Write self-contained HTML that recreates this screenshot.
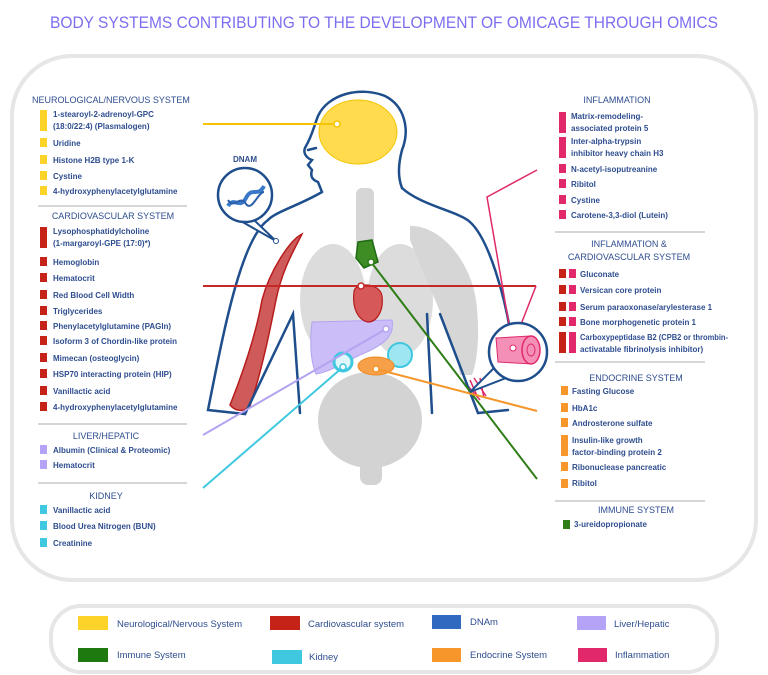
<!DOCTYPE html>
<html><head><meta charset="utf-8"><style>
html,body{margin:0;padding:0;background:#fff;}
svg{display:block;}
.t{font-family:"Liberation Sans",sans-serif;font-size:8px;fill:#2e4d8f;font-weight:bold;}
.h{font-family:"Liberation Sans",sans-serif;font-size:9px;fill:#2e4d8f;}
.lg{font-family:"Liberation Sans",sans-serif;font-size:9.5px;fill:#2e4d8f;}
</style></head><body>
<svg width="768" height="675" viewBox="0 0 768 675" xmlns="http://www.w3.org/2000/svg">
<text x="384" y="28" text-anchor="middle" font-family="Liberation Sans, sans-serif" font-size="17" fill="#7b6ef0" textLength="668" lengthAdjust="spacingAndGlyphs">BODY SYSTEMS CONTRIBUTING TO THE DEVELOPMENT OF OMICAGE THROUGH OMICS</text>
<rect x="12" y="56" width="744" height="524" rx="60" fill="#fff" stroke="#e6e6e6" stroke-width="4"/>

<!-- body organs -->
<g>
<rect x="356" y="188" width="18" height="75" rx="6" fill="#d6d6d6"/>
<ellipse cx="333" cy="300" rx="33" ry="56" fill="#dcdcdc"/>
<ellipse cx="400" cy="300" rx="33" ry="56" fill="#dcdcdc"/>
<ellipse cx="370" cy="420" rx="52" ry="48" fill="#d3d3d3"/>
<rect x="360" y="440" width="22" height="45" rx="8" fill="#d3d3d3"/>
<path d="M410 226 C440 225 470 260 476 300 C480 330 478 360 472 375 L460 375 C455 340 430 290 410 240 Z" fill="#d6d6d6"/>
<path d="M302 234 C290 240 270 270 262 300 C255 340 240 380 230 405 C236 412 244 412 250 406 C262 370 270 330 276 300 C282 270 294 250 302 234 Z" fill="#cf5a5a" stroke="#b71c1c" stroke-width="1.5"/>
<path d="M312 322 L392 320 C395 335 385 345 360 355 C345 362 330 372 316 374 C310 360 310 340 312 322 Z" fill="#cbbdf8" stroke="#b4a3f0"/>
<path d="M358 242 L372 240 L378 262 L364 268 L356 258 Z" fill="#3d8c24" stroke="#1e6b12" stroke-width="1.5"/>
<path d="M354 292 C354 282 380 282 382 296 C384 312 376 322 368 322 C358 320 352 308 354 292 Z" fill="#d65858" stroke="#b71c1c" stroke-width="1.2"/>
<circle cx="343" cy="362" r="9" fill="#dff7fb" stroke="#3fc8e0" stroke-width="3"/>
<circle cx="400" cy="355" r="12" fill="#9ee6f2" stroke="#3fc8e0" stroke-width="2"/>
<ellipse cx="376" cy="366" rx="18" ry="9" fill="#f6a04a" stroke="#f08a20"/>
<ellipse cx="358" cy="132" rx="39" ry="32" fill="#ffdb4d" stroke="#f5c400"/>
<path d="M470 380 L478 398 M474 378 L486 396 M480 378 L484 398 M468 386 L480 400" stroke="#e0286a" stroke-width="1.5" fill="none"/>
</g>
<!-- outline -->
<g fill="none" stroke="#1f4e8c" stroke-width="2.5" stroke-linecap="round">
<path d="M322 192 L318 182 C312 180 310 176 312 170 L308 165 L312 160 C306 158 302 152 306 146 C312 136 314 126 318 116 C328 94 360 86 385 96 C405 106 410 130 402 150 C398 165 398 178 402 188"/>
<path d="M322 192 C300 205 275 212 268 220 C240 240 222 340 208 410 L245 414 L293 314 L300 413"/>
<path d="M402 188 C420 205 460 212 470 222 C490 240 505 300 510 330"/>
<path d="M427 314 L432 413 M440 314 L478 413 L508 410"/>
<path d="M308 150 L316 148"/>
</g>

<!-- connectors -->
<g fill="none" stroke-width="2">
<line x1="203" y1="124" x2="337" y2="124" stroke="#f5c400"/>
<line x1="203" y1="286" x2="536" y2="286" stroke="#c62828"/>
<line x1="371" y1="262" x2="537" y2="479" stroke="#2e7d17"/>
<line x1="386" y1="329" x2="203" y2="435" stroke="#b4a3f0"/>
<line x1="343" y1="367" x2="203" y2="488" stroke="#3fc8e0"/>
<line x1="376" y1="369" x2="537" y2="411" stroke="#f5962a"/>
<polyline points="537,170 487,197 512,342" stroke="#e0286a" stroke-width="1.5"/>
<line x1="536" y1="286" x2="518" y2="332" stroke="#e0286a" stroke-width="1.5"/>
</g>
<g fill="#fff" stroke-width="1.5">
<circle cx="337" cy="124" r="3" stroke="#f5c400"/>
<circle cx="361" cy="286" r="3" stroke="#c62828"/>
<circle cx="371" cy="262" r="3" stroke="#2e7d17"/>
<circle cx="386" cy="329" r="3" stroke="#b4a3f0"/>
<circle cx="343" cy="367" r="3" stroke="#3fc8e0"/>
<circle cx="376" cy="369" r="3" stroke="#f5962a"/>
</g>

<!-- DNAm -->
<text x="245" y="162" text-anchor="middle" class="t" style="font-size:8px">DNAM</text>
<path d="M232 216 L276 241 L253 219" fill="#fff" stroke="#1f4e8c" stroke-width="2"/>
<circle cx="245" cy="195" r="27" fill="#fff" stroke="#1f4e8c" stroke-width="2.5"/>
<path d="M228 206 C234 196 240 210 246 198 C252 186 258 198 264 186" stroke="#3a79c9" stroke-width="4" fill="none"/>
<path d="M228 200 C234 210 240 194 246 204 C252 212 258 192 264 192" stroke="#2a5fa8" stroke-width="2" fill="none"/>
<circle cx="276" cy="241" r="2.5" fill="#fff" stroke="#1f4e8c"/>

<!-- muscle circle -->
<path d="M494 368 L470 392 L506 378" fill="#fff" stroke="#1f4e8c" stroke-width="2"/>
<circle cx="518" cy="352" r="29" fill="#fff" stroke="#1f4e8c" stroke-width="2.5"/>
<path d="M496 338 L530 336 L532 364 L498 362 Z" fill="#f48fb8" stroke="#e0286a"/>
<ellipse cx="531" cy="350" rx="9" ry="14" fill="#f48fb8" stroke="#e0286a" stroke-width="1.5"/>
<ellipse cx="531" cy="350" rx="4" ry="6" fill="none" stroke="#e0286a"/>
<circle cx="513" cy="348" r="3" fill="#fff" stroke="#e0286a"/>

<!-- headers -->
<g class="h">
<text x="32" y="103">NEUROLOGICAL/NERVOUS SYSTEM</text>
<text x="113" y="219" text-anchor="middle">CARDIOVASCULAR SYSTEM</text>
<text x="106" y="439" text-anchor="middle">LIVER/HEPATIC</text>
<text x="106" y="499" text-anchor="middle">KIDNEY</text>
<text x="617" y="103" text-anchor="middle">INFLAMMATION</text>
<text x="629" y="247" text-anchor="middle">INFLAMMATION &amp;</text>
<text x="629" y="260" text-anchor="middle">CARDIOVASCULAR SYSTEM</text>
<text x="636" y="381" text-anchor="middle">ENDOCRINE SYSTEM</text>
<text x="636" y="513" text-anchor="middle">IMMUNE SYSTEM</text>
</g>
<g stroke="#c8c8c8" stroke-width="1.5">
<line x1="38" y1="206" x2="187" y2="206"/><line x1="38" y1="424" x2="187" y2="424"/><line x1="38" y1="483" x2="187" y2="483"/>
<line x1="555" y1="232" x2="705" y2="232"/><line x1="555" y1="362" x2="705" y2="362"/><line x1="555" y1="501" x2="705" y2="501"/>
</g>
<g fill="#fdd32a">
<rect x="40" y="110" width="7" height="21"/><rect x="40" y="138" width="7" height="9"/><rect x="40" y="155" width="7" height="9"/><rect x="40" y="171" width="7" height="9"/><rect x="40" y="186" width="7" height="9"/>
</g>
<g fill="#c62318">
<rect x="40" y="227" width="7" height="21"/><rect x="40" y="257" width="7" height="9"/><rect x="40" y="273" width="7" height="9"/><rect x="40" y="290" width="7" height="9"/><rect x="40" y="306" width="7" height="9"/><rect x="40" y="321" width="7" height="9"/><rect x="40" y="336" width="7" height="9"/><rect x="40" y="353" width="7" height="9"/><rect x="40" y="369" width="7" height="9"/><rect x="40" y="386" width="7" height="9"/><rect x="40" y="402" width="7" height="9"/>
</g>
<g fill="#b4a3f7"><rect x="40" y="445" width="7" height="9"/><rect x="40" y="460" width="7" height="9"/></g>
<g fill="#40c8e0"><rect x="40" y="505" width="7" height="9"/><rect x="40" y="521" width="7" height="9"/><rect x="40" y="538" width="7" height="9"/></g>
<g class="t">
<text x="53" y="117">1-stearoyl-2-adrenoyl-GPC</text><text x="53" y="129">(18:0/22:4) (Plasmalogen)</text>
<text x="53" y="146">Uridine</text><text x="53" y="163">Histone H2B type 1-K</text><text x="53" y="179">Cystine</text><text x="53" y="194">4-hydroxyphenylacetylglutamine</text>
<text x="53" y="234">Lysophosphatidylcholine</text><text x="53" y="246">(1-margaroyl-GPE (17:0)*)</text>
<text x="53" y="265">Hemoglobin</text><text x="53" y="281">Hematocrit</text><text x="53" y="298">Red Blood Cell Width</text><text x="53" y="314">Triglycerides</text><text x="53" y="329">Phenylacetylglutamine (PAGln)</text><text x="53" y="344">Isoform 3 of Chordin-like protein</text><text x="53" y="361">Mimecan (osteoglycin)</text><text x="53" y="377">HSP70 interacting protein (HIP)</text><text x="53" y="394">Vanillactic acid</text><text x="53" y="410">4-hydroxyphenylacetylglutamine</text>
<text x="53" y="453">Albumin (Clinical &amp; Proteomic)</text><text x="53" y="468">Hematocrit</text>
<text x="53" y="513">Vanillactic acid</text><text x="53" y="529">Blood Urea Nitrogen (BUN)</text><text x="53" y="546">Creatinine</text>
</g>

<!-- right lists -->
<g fill="#e0286a">
<rect x="559" y="112" width="7" height="21"/><rect x="559" y="137" width="7" height="21"/><rect x="559" y="164" width="7" height="9"/><rect x="559" y="179" width="7" height="9"/><rect x="559" y="195" width="7" height="9"/><rect x="559" y="210" width="7" height="9"/>
<rect x="569" y="269" width="7" height="9"/><rect x="569" y="285" width="7" height="9"/><rect x="569" y="302" width="7" height="9"/><rect x="569" y="317" width="7" height="9"/><rect x="569" y="332" width="7" height="21"/>
</g>
<g fill="#c62318">
<rect x="559" y="269" width="7" height="9"/><rect x="559" y="285" width="7" height="9"/><rect x="559" y="302" width="7" height="9"/><rect x="559" y="317" width="7" height="9"/><rect x="559" y="332" width="7" height="21"/>
</g>
<g fill="#f7962a">
<rect x="561" y="386" width="7" height="9"/><rect x="561" y="403" width="7" height="9"/><rect x="561" y="418" width="7" height="9"/><rect x="561" y="435" width="7" height="21"/><rect x="561" y="462" width="7" height="9"/><rect x="561" y="479" width="7" height="9"/>
</g>
<rect x="563" y="520" width="7" height="9" fill="#2e7d17"/>
<g class="t">
<text x="571" y="119">Matrix-remodeling-</text><text x="571" y="131">associated protein 5</text>
<text x="571" y="144">Inter-alpha-trypsin</text><text x="571" y="156">inhibitor heavy chain H3</text>
<text x="571" y="172">N-acetyl-isoputreanine</text><text x="571" y="187">Ribitol</text><text x="571" y="203">Cystine</text><text x="571" y="218">Carotene-3,3-diol (Lutein)</text>
<text x="580" y="277">Gluconate</text><text x="580" y="293">Versican core protein</text><text x="580" y="310">Serum paraoxonase/arylesterase 1</text><text x="580" y="325">Bone morphogenetic protein 1</text>
<text x="580" y="340" textLength="148" lengthAdjust="spacingAndGlyphs">Carboxypeptidase B2 (CPB2 or thrombin-</text><text x="580" y="352">activatable fibrinolysis inhibitor)</text>
<text x="572" y="394">Fasting Glucose</text><text x="572" y="411">HbA1c</text><text x="572" y="426">Androsterone sulfate</text>
<text x="572" y="443">Insulin-like growth</text><text x="572" y="455">factor-binding protein 2</text>
<text x="572" y="470">Ribonuclease pancreatic</text><text x="572" y="486">Ribitol</text>
<text x="574" y="527">3-ureidopropionate</text>
</g>

<!-- legend -->
<rect x="51" y="606" width="666" height="66" rx="30" fill="#fff" stroke="#e6e6e6" stroke-width="4"/>
<rect x="78" y="616" width="30" height="14" fill="#fdd32a"/><text x="117" y="627" class="lg">Neurological/Nervous System</text>
<rect x="270" y="616" width="30" height="14" fill="#c62318"/><text x="308" y="627" class="lg">Cardiovascular system</text>
<rect x="432" y="615" width="29" height="14" fill="#2f6ac0"/><text x="470" y="625" class="lg">DNAm</text>
<rect x="577" y="616" width="29" height="14" fill="#b4a3f7"/><text x="614" y="627" class="lg">Liver/Hepatic</text>
<rect x="78" y="648" width="30" height="14" fill="#1e7a0e"/><text x="117" y="658" class="lg">Immune System</text>
<rect x="272" y="650" width="30" height="14" fill="#40c8e0"/><text x="309" y="660" class="lg">Kidney</text>
<rect x="432" y="648" width="29" height="14" fill="#f7962a"/><text x="470" y="658" class="lg">Endocrine System</text>
<rect x="578" y="648" width="29" height="14" fill="#e0286a"/><text x="615" y="658" class="lg">Inflammation</text>
</svg>
</body></html>
